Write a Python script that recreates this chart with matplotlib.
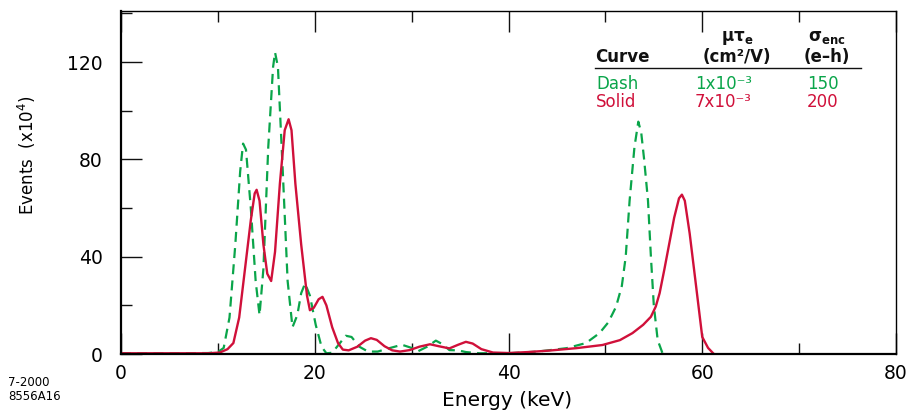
import matplotlib

matplotlib.use("Agg")
import matplotlib.pyplot as plt
from matplotlib.ticker import MultipleLocator

plt.rcParams["font.family"] = ["DejaVu Sans"]
plt.rcParams["mathtext.fontset"] = "dejavusans"

GREEN = "#0aa54a"
RED = "#d0103a"
INK = "#111111"

# dashed curve: mu*tau_e = 1e-3 cm2/V, sigma_enc = 150 e-h
dash_kev = [0, 5, 9, 10, 10.6, 11.2, 11.8, 12.3, 12.6, 12.9, 13.4, 13.9, 14.3,
            14.7, 15.2, 15.7, 15.9, 16.2, 16.7, 17.2, 17.7, 18.2, 18.6, 19.0,
            19.5, 20.1, 20.7, 21.2, 21.8, 22.5, 23.2, 23.8, 24.6, 25.5, 26.5,
            27.8, 29.0, 30.0, 30.7, 31.6, 32.5, 33.2, 33.9, 34.8, 35.6, 37, 40,
            43, 46, 48, 49.4, 50.3, 51.1, 51.7, 52.1, 52.5, 53.0, 53.4, 53.7,
            54.0, 54.4, 54.7, 55.0, 55.4, 55.9]
dash_events = [0.3, 0.3, 0.4, 0.8, 2.5, 15, 45, 75, 86.5, 84, 60, 30, 16,
               35, 85, 118, 124, 118, 75, 30, 11, 16, 25, 29,
               24, 12, 3, 0.3, 0.5, 4, 7.5, 7, 3, 1, 1,
               2.5, 3.8, 2.5, 1.2, 3, 5.5, 4, 1.6, 1.5, 0.8, 0.3, 0.3,
               1, 2.4, 4.5, 8.6, 13, 19.4, 28, 40, 63, 85, 95.5, 91,
               80, 63, 40, 20, 5.7, 0.3]

# solid curve: mu*tau_e = 7e-3 cm2/V, sigma_enc = 200 e-h
solid_kev = [0, 5, 9, 10.2, 11, 11.6, 12.2, 12.8, 13.4, 13.8, 14.0, 14.3, 14.7,
             15.1, 15.5, 15.9, 16.4, 16.9, 17.3, 17.6, 18.0, 18.6, 19.2, 19.5,
             19.9, 20.4, 20.8, 21.2, 21.8, 22.4, 22.9, 23.5, 24.4, 25.2, 25.8,
             26.4, 27.2, 28.0, 28.8, 29.8, 30.8, 31.9, 32.8, 33.9, 34.8, 35.6,
             36.3, 37.2, 38.4, 40, 42, 44.2, 47, 49.7, 51.5, 52.8, 53.9, 54.7,
             55.2, 55.6, 56.1, 56.6, 57.1, 57.6, 57.9, 58.2, 58.7, 59.3, 60.0,
             60.6, 61.2]
solid_events = [0.3, 0.3, 0.3, 0.6, 2, 4.5, 15, 35, 55, 66, 67.5, 63, 45,
                33, 30, 42, 70, 92, 96.5, 92, 70, 45, 24, 18,
                19, 22.5, 23.5, 20, 11, 4.5, 1.8, 1.5, 3, 5.5, 6.5,
                5.8, 3.2, 1.5, 1, 1.6, 3, 4, 3.2, 2.3, 3.8, 5,
                4.3, 2, 0.6, 0.4, 0.8, 1.4, 2.4, 3.7, 5.7, 8.6, 12, 15.3,
                19.5, 25, 35, 45.5, 56, 64, 65.5, 63, 49.6, 30, 7,
                2.5, 0]

table_rows = [("Dash", "1x10\u207b\u00b3", "150", GREEN),
              ("Solid", "7x10\u207b\u00b3", "200", RED)]

W, H = 912, 416


def fx(px):
    return px / W


def fy(py):
    return 1 - py / H


fig = plt.figure(figsize=(9.12, 4.16), dpi=100)
ax = fig.add_axes([fx(121), fy(354), (896 - 121) / W, (354 - 11) / H])

ax.plot(dash_kev, dash_events, color=GREEN, lw=1.6, dashes=(4.5, 2.8))
ax.plot(solid_kev, solid_events, color=RED, lw=1.7)

ax.set_xlim(0, 80)
ax.set_ylim(0, 141)
ax.xaxis.set_major_locator(MultipleLocator(20))
ax.xaxis.set_minor_locator(MultipleLocator(10))
ax.yaxis.set_major_locator(MultipleLocator(40))
ax.yaxis.set_minor_locator(MultipleLocator(20))
ax.tick_params(axis="x", which="both", direction="in", top=True, bottom=True,
               labelsize=13.5, pad=7, color=INK)
ax.tick_params(axis="y", which="both", direction="in", left=True, right=False,
               labelsize=13.5, pad=13, color=INK)
ax.tick_params(which="major", length=15, width=1.0)
ax.tick_params(which="minor", length=8, width=1.0)
for side in ("left", "bottom"):
    ax.spines[side].set_linewidth(1.6)
for side in ("top", "right"):
    ax.spines[side].set_linewidth(1.0)

fig.text(fx(507), fy(400), "Energy (keV)", fontsize=14.5, ha="center",
         va="center")
fig.text(fx(27), fy(155), "Events  (x10$^4$)", fontsize=12, rotation=90,
         ha="center", va="center")

# parameter table in the upper right
hdr = dict(fontsize=12, fontweight="bold", va="baseline", color=INK)
fig.text(fx(595), fy(62), "Curve", ha="left", **hdr)
fig.text(fx(737), fy(41), r"μτ$_\mathbf{e}$", ha="center", **hdr)
fig.text(fx(737), fy(62), "(cm\u00b2/V)", ha="center", **hdr)
fig.text(fx(827), fy(41), r"σ$_\mathbf{enc}$", ha="center", **hdr)
fig.text(fx(827), fy(62), "(e\u2013h)", ha="center", **hdr)
fig.add_artist(plt.Line2D([fx(595), fx(861)], [fy(68)] * 2, color=INK, lw=1.0))
for i, (name, mt, sig, col) in enumerate(table_rows):
    yb = fy(89 + 18 * i)
    fig.text(fx(596), yb, name, fontsize=12, color=col, va="baseline")
    fig.text(fx(695), yb, mt, fontsize=12, color=col, va="baseline")
    fig.text(fx(823), yb, sig, fontsize=12, color=col, va="baseline",
             ha="center")

fig.text(fx(8), fy(386), "7-2000", fontsize=8.5, va="baseline")
fig.text(fx(8), fy(400), "8556A16", fontsize=8.5, va="baseline")

fig.savefig("out.png", dpi=100)
